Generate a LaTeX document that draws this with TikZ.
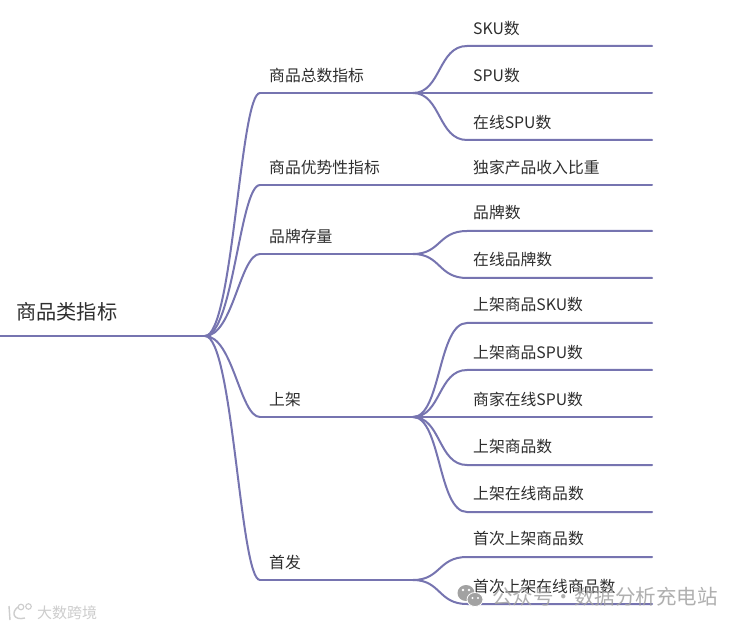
\documentclass[tikz,border=0pt]{standalone}
\usepackage{fontspec}
\usetikzlibrary{calc}
\setmainfont{Noto Sans CJK SC}
\definecolor{branch}{HTML}{7674B0}
\definecolor{txt}{HTML}{2E2E2E}
\definecolor{wm}{HTML}{A2A2A2}
\definecolor{wmb}{HTML}{CDCDCD}
\tikzset{
  link/.style={draw=branch,line width=2pt,line cap=round},
  lab/.style={anchor=west,inner sep=0pt,text=txt,font=\fontsize{15.8}{18}\selectfont},
  rootlab/.style={anchor=west,inner sep=0pt,text=txt,font=\fontsize{20.2}{24}\selectfont},
  mark text/.style={anchor=west,inner sep=0pt,text=wm,opacity=.85,font=\fontsize{20.5}{24}\selectfont},
  corner text/.style={anchor=west,inner sep=0pt,text=wmb,font=\fontsize{15}{18}\selectfont},
}
\begin{document}
\begin{tikzpicture}[x=1pt,y=-1pt]
\useasboundingbox (0,0) rectangle (742,628);
\fill[white] (0,0) rectangle (742,628);
\coordinate (start) at (0,336);
\coordinate (hub) at (205,336);
\node[rootlab] (root) at (16,311.5) {商品类指标};
\foreach \n/\ly/\ty/\t in {a/93/75.3/商品总数指标,b/185/167.3/商品优势性指标,c/254/236.3/品牌存量,d/417/399.3/上架,e/580/562.3/首发}{
  \coordinate (\n in) at (260,\ly);
  \coordinate (\n out) at (413,\ly);
  \node[lab] (\n lab) at (269,\ty) {\t};
  \draw[link] (hub) .. controls (233,336) and (240,\ly) .. (\n in);
  \draw[link] (\n in) -- (\n out);
}
\draw[link] (start) -- (hub);
\foreach \p/\n/\ly/\ty/\t in {
  a/l1/46/28.3/SKU数,a/l2/93/75.3/SPU数,a/l3/140/122.3/在线SPU数,
  b/l4/185/167.3/独家产品收入比重,
  c/l5/231/212.3/品牌数,c/l6/278/259.3/在线品牌数,
  d/l7/323/304.3/上架商品SKU数,d/l8/370/352.3/上架商品SPU数,d/l9/417/399.3/商家在线SPU数,d/l10/465/446.3/上架商品数,d/l11/512/493.3/上架在线商品数,
  e/l12/557/538.3/首次上架商品数,e/l13/604/586.3/首次上架在线商品数}{
  \coordinate (\n in) at (467,\ly);
  \coordinate (\n end) at (652,\ly);
  \node[lab] (\n lab) at (473,\ty) {\t};
  \draw[link] (\p out) .. controls ($(\p out)+(28,0)$) and (438,\ly) .. (\n in) -- (\n end);
}
% watermarks
\fill[wm] (466,593) ellipse (8.5 and 8);
\fill[wm,draw=white,line width=.8pt] (475,599.5) ellipse (8 and 7);
\fill[white] (463,590) circle (1.3) (469,590) circle (1.3) (472.5,598) circle (1.1) (478,598) circle (1.1);
\node[mark text] (wechat) at (492,597) {公众号・数据分析充电站};
\node[corner text] (corner) at (37,613) {大数跨境};
\draw[wmb,line width=1.4pt] (9,606) -- (10,620) (18,607) .. controls (11,612) and (13,621) .. (25,618);
\draw[wmb,line width=1.1pt] (21,607) circle (2.8) (28.5,606.5) circle (2.8);
\end{tikzpicture}
\end{document}
